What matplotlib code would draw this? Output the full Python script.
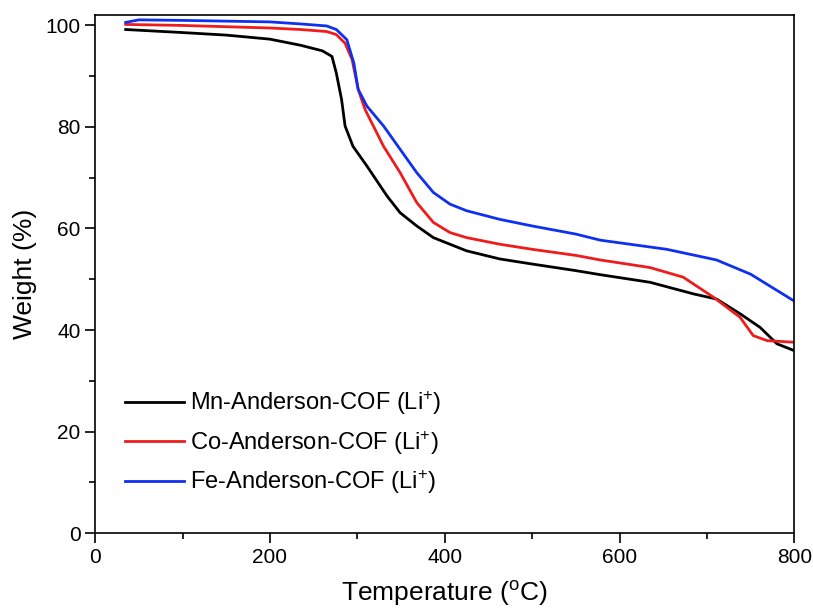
import matplotlib
matplotlib.use('Agg')
import matplotlib.pyplot as plt
import numpy as np

plt.rcParams['font.family'] = ['Liberation Sans', 'DejaVu Sans']
plt.rcParams['mathtext.default'] = 'regular'

# TGA curves (temperature in C, weight in %)
t_mn = [35, 100, 150, 200, 235, 260, 271, 276, 282, 286, 295, 311, 334, 349, 368, 387,
        425, 463, 500, 550, 578, 635, 685, 711, 738, 761, 780, 799]
w_mn = [99.2, 98.6, 98.1, 97.3, 96.1, 95.0, 93.9, 90.6, 85.4, 80.2, 76.2, 72.3, 66.4, 63.1, 60.5, 58.2,
        55.6, 54.0, 53.0, 51.7, 50.9, 49.4, 47.1, 46.1, 43.2, 40.5, 37.3, 36.0]

t_co = [35, 100, 200, 235, 265, 276, 286, 294, 301, 309, 330, 349, 368, 387, 406, 425,
        463, 500, 550, 578, 635, 673, 708, 738, 753, 769, 799]
w_co = [100.2, 100.0, 99.5, 99.2, 98.8, 98.2, 96.5, 93.3, 87.4, 83.4, 76.2, 71.0, 65.1, 61.2, 59.2, 58.2,
        56.9, 55.9, 54.7, 53.8, 52.3, 50.4, 46.4, 42.5, 38.9, 37.9, 37.6]

t_fe = [35, 50, 100, 200, 235, 265, 276, 288, 296, 301, 311, 330, 349, 368, 387, 406,
        425, 463, 500, 550, 578, 654, 711, 750, 799]
w_fe = [100.6, 101.1, 101.0, 100.7, 100.3, 99.9, 99.2, 97.2, 92.6, 87.4, 84.1, 80.2, 75.6, 71.0, 67.1, 64.8,
        63.5, 61.8, 60.5, 58.9, 57.7, 55.9, 53.8, 51.0, 45.8]

labels = ['Mn-Anderson-COF (Li$^{+}$)', 'Co-Anderson-COF (Li$^{+}$)', 'Fe-Anderson-COF (Li$^{+}$)']

fig = plt.figure(figsize=(8.13, 6.12), dpi=100)
ax = fig.add_axes([0.117, 0.129, 0.860, 0.846])

ax.plot(t_mn, w_mn, color='black', lw=2.0, label=labels[0])
ax.plot(t_co, w_co, color='#ee1c1c', lw=2.0, label=labels[1])
ax.plot(t_fe, w_fe, color='#1030f0', lw=2.0, label=labels[2])

ax.set_xlim(0, 800)
ax.set_ylim(0, 102)
ax.set_xticks([0, 200, 400, 600, 800])
ax.set_xticks(np.arange(0, 801, 100), minor=True)
ax.set_yticks([0, 20, 40, 60, 80, 100])
ax.set_yticks(np.arange(0, 101, 10), minor=True)
ax.tick_params(axis='both', which='major', direction='out', length=7, width=1.2, labelsize=15)
ax.tick_params(axis='both', which='minor', direction='out', length=4, width=1.2)
for s in ax.spines.values():
    s.set_linewidth(1.2)

ax.set_xlabel('Temperature ($^{o}$C)', fontsize=19, labelpad=9)
ax.set_ylabel('Weight (%)', fontsize=19, labelpad=6)

ax.legend(loc='lower left', bbox_to_anchor=(0.013, 0.03), frameon=False, fontsize=17,
          handlelength=2.5, handletextpad=0.25, labelspacing=0.5)

fig.savefig('out.png', dpi=100)
